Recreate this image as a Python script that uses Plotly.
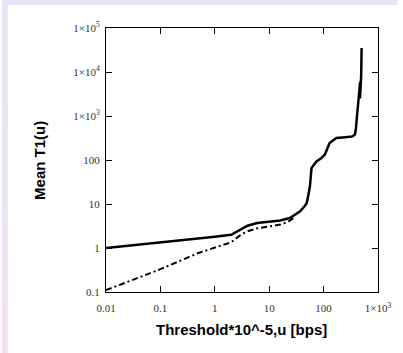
import plotly.graph_objects as go

# Solid curve: Mean T1(u)
solid_x = [0.01, 0.1, 0.5, 1, 2, 2.7, 4, 6, 10, 16, 24, 30, 37, 45, 49, 53, 56, 60, 74, 90, 105, 129,
           171, 250, 340, 376, 392, 408, 444, 470, 466, 490, 500]
solid_y = [1.0, 1.33, 1.6, 1.8, 2.0, 2.5, 3.2, 3.7, 4.0, 4.2, 4.8, 5.7, 6.8, 9.0, 10.5, 17, 25, 66, 93,
           110, 132, 243, 316, 330, 344, 380, 500, 900, 2300, 6000, 2500, 8000, 35000]

# Dashed curve
dash_x = [0.01, 0.1, 0.5, 1, 2, 3, 4, 6, 10, 16, 22, 28]
dash_y = [0.11, 0.33, 0.77, 1.0, 1.35, 2.0, 2.4, 2.8, 3.1, 3.4, 3.9, 4.8]

x_ticks = [0.01, 0.1, 1, 10, 100, 1000]
x_labels = ["0.01", "0.1", "1", "10", "100", "1×10<sup>3</sup>"]
y_ticks = [0.1, 1, 10, 100, 1000, 1e4, 1e5]
y_labels = ["0.1", "1", "10", "100", "1×10<sup>3</sup>", "1×10<sup>4</sup>", "1×10<sup>5</sup>"]

W, H = 403, 353
L, R, T, B = 106, 20, 28, 61
pw, ph = W - L - R, H - T - B

def px(x):
    return (x - L) / pw

def py(y):
    return (H - B - y) / ph

fig = go.Figure()
fig.add_trace(go.Scatter(x=dash_x, y=dash_y, mode="lines",
                         line=dict(color="black", width=2, dash="6px,3px,2px,3px"),
                         showlegend=False))
fig.add_trace(go.Scatter(x=solid_x, y=solid_y, mode="lines",
                         line=dict(color="black", width=2.5), showlegend=False))

shapes = []
# top lavender strip
shapes.append(dict(type="rect", xref="paper", yref="paper", x0=px(0), x1=px(W),
                   y0=py(5), y1=py(0), fillcolor="rgb(230,230,250)", line=dict(width=0), layer="below"))
# left strip gradient
n = 14
c0 = (230, 230, 250)
c1 = (242, 226, 240)
for i in range(n):
    t = i / (n - 1)
    c = tuple(int(round(c0[k] + (c1[k] - c0[k]) * t)) for k in range(3))
    y0 = 5 + (H - 5) * i / n
    y1 = min(H, 5 + (H - 5) * (i + 1) / n + 0.5)
    shapes.append(dict(type="rect", xref="paper", yref="paper", x0=px(0), x1=px(6),
                       y0=py(y1), y1=py(y0), fillcolor="rgb(%d,%d,%d)" % c,
                       line=dict(width=0), layer="below"))

axis_common = dict(type="log", showgrid=False, zeroline=False, showline=True, linecolor="black",
                   linewidth=1, mirror="ticks", ticks="inside", ticklen=6, tickcolor="black",
                   tickfont=dict(family="Liberation Serif", size=11, color="#333333"))

fig.update_layout(
    width=W, height=H,
    margin=dict(l=L, r=R, t=T, b=B),
    paper_bgcolor="white",
    plot_bgcolor="white",
    shapes=shapes,
    xaxis=dict(range=[-2, 3], tickvals=x_ticks, ticktext=x_labels, ticklabelstandoff=6, **axis_common),
    yaxis=dict(range=[-1, 5], tickvals=y_ticks, ticktext=y_labels, ticklabelstandoff=3, **axis_common),
    annotations=[
        dict(text="<b>Threshold*10^-5,u [bps]</b>", xref="paper", yref="paper", x=px(244), y=py(340),
             showarrow=False, font=dict(family="Liberation Sans", size=15, color="black")),
        dict(text="<b>Mean T1(u)</b>", xref="paper", yref="paper", x=px(27), y=py(160),
             showarrow=False, textangle=-90, font=dict(family="Liberation Sans", size=15, color="black")),
    ],
)

fig.write_html("out.html", config={"displayModeBar": False},
               post_script="document.body.style.margin='0';document.body.style.overflow='hidden';")
